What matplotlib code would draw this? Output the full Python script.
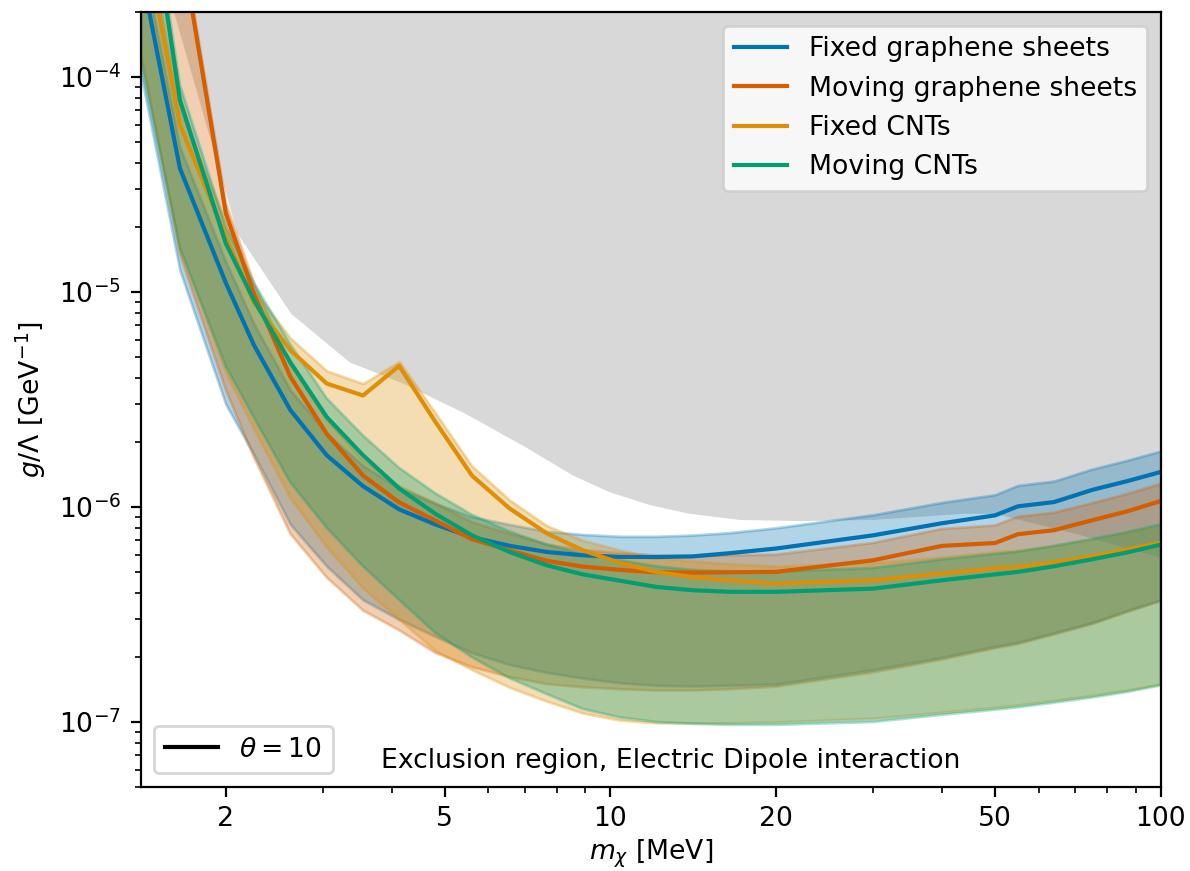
import numpy as np
import matplotlib.pyplot as plt
from matplotlib.lines import Line2D

plt.rcParams['font.size'] = 9.6

# dark matter mass grid [MeV]
mass = [1.4, 1.65, 2.0, 2.25, 2.62, 3.05, 3.55, 4.13, 4.8, 5.6, 6.55, 7.65, 8.9,
        10.4, 12.1, 14.1, 16.5, 20, 30, 40, 50, 55, 64, 75, 87, 100]

# projected reach on g/Lambda [GeV^-1], central curve plus band edges
fixed_sheets = [3.2e-4, 3.76e-5, 1.1e-5, 5.65e-6, 2.82e-6, 1.74e-6, 1.25e-6, 9.75e-7, 8.3e-7,
                7.23e-7, 6.6e-7, 6.18e-7, 5.96e-7, 5.86e-7, 5.85e-7, 5.89e-7, 6.1e-7, 6.41e-7,
                7.38e-7, 8.4e-7, 9.14e-7, 1.007e-6, 1.054e-6, 1.2e-6, 1.32e-6, 1.455e-6]
fixed_sheets_lo = [1.05e-4, 1.26e-5, 3.0e-6, 1.75e-6, 8.3e-7, 5.3e-7, 3.7e-7, 3.0e-7, 2.5e-7,
                   2.1e-7, 1.85e-7, 1.7e-7, 1.6e-7, 1.52e-7, 1.48e-7, 1.47e-7, 1.48e-7, 1.5e-7,
                   1.75e-7, 2.0e-7, 2.25e-7, 2.35e-7, 2.6e-7, 2.9e-7, 3.3e-7, 3.7e-7]
fixed_sheets_hi = [4.0e-4, 4.7e-5, 1.38e-5, 7.1e-6, 3.5e-6, 2.2e-6, 1.56e-6, 1.22e-6, 1.04e-6,
                   9.0e-7, 8.3e-7, 7.7e-7, 7.45e-7, 7.3e-7, 7.3e-7, 7.4e-7, 7.6e-7, 8.0e-7,
                   9.2e-7, 1.05e-6, 1.14e-6, 1.26e-6, 1.32e-6, 1.5e-6, 1.65e-6, 1.82e-6]

moving_sheets = [5.9e-3, 4.5e-4, 2.32e-5, 9.8e-6, 4.03e-6, 2.19e-6, 1.40e-6, 1.05e-6, 8.67e-7,
                 7.08e-7, 6.29e-7, 5.62e-7, 5.28e-7, 5.1e-7, 4.97e-7, 4.95e-7, 4.97e-7, 4.99e-7,
                 5.65e-7, 6.59e-7, 6.8e-7, 7.47e-7, 7.8e-7, 8.67e-7, 9.55e-7, 1.066e-6]
moving_sheets_lo = [1.3e-4, 1.5e-5, 3.5e-6, 1.7e-6, 7.5e-7, 4.7e-7, 3.3e-7, 2.67e-7, 2.1e-7,
                    1.8e-7, 1.62e-7, 1.5e-7, 1.45e-7, 1.42e-7, 1.4e-7, 1.4e-7, 1.42e-7, 1.46e-7,
                    1.7e-7, 1.95e-7, 2.2e-7, 2.3e-7, 2.55e-7, 2.85e-7, 3.25e-7, 3.65e-7]
moving_sheets_hi = [6.5e-3, 5.0e-4, 2.6e-5, 1.1e-5, 4.6e-6, 2.55e-6, 1.65e-6, 1.25e-6, 1.04e-6,
                    8.5e-7, 7.5e-7, 6.7e-7, 6.3e-7, 6.1e-7, 5.95e-7, 5.9e-7, 5.95e-7, 6.0e-7,
                    6.8e-7, 7.9e-7, 8.2e-7, 9.0e-7, 9.4e-7, 1.04e-6, 1.15e-6, 1.28e-6]

fixed_cnt = [5.65e-4, 6.0e-5, 1.8e-5, 8.9e-6, 5.36e-6, 3.75e-6, 3.30e-6, 4.53e-6, 2.5e-6,
             1.40e-6, 9.86e-7, 7.55e-7, 6.29e-7, 5.49e-7, 4.99e-7, 4.72e-7, 4.56e-7, 4.4e-7,
             4.56e-7, 4.9e-7, 5.19e-7, 5.26e-7, 5.53e-7, 5.9e-7, 6.35e-7, 6.83e-7]
fixed_cnt_lo = [1.3e-4, 1.6e-5, 4.2e-6, 2.3e-6, 1.1e-6, 6.5e-7, 4.2e-7, 3.0e-7, 2.15e-7,
                1.75e-7, 1.45e-7, 1.25e-7, 1.1e-7, 1.02e-7, 9.9e-8, 9.9e-8, 9.9e-8, 1.0e-7,
                1.04e-7, 1.11e-7, 1.17e-7, 1.2e-7, 1.26e-7, 1.33e-7, 1.41e-7, 1.5e-7]
fixed_cnt_hi = [6.5e-4, 7.0e-5, 2.1e-5, 1.02e-5, 6.1e-6, 4.3e-6, 3.75e-6, 4.75e-6, 2.75e-6,
                1.55e-6, 1.08e-6, 8.2e-7, 7.0e-7, 6.3e-7, 5.8e-7, 5.6e-7, 5.45e-7, 5.3e-7,
                5.5e-7, 5.85e-7, 6.2e-7, 6.3e-7, 6.6e-7, 7.05e-7, 7.6e-7, 8.2e-7]

moving_cnt = [1.3e-3, 7.8e-5, 1.68e-5, 9.15e-6, 4.7e-6, 2.62e-6, 1.74e-6, 1.22e-6, 9.31e-7,
              7.38e-7, 6.18e-7, 5.36e-7, 4.86e-7, 4.54e-7, 4.25e-7, 4.1e-7, 4.03e-7, 4.03e-7,
              4.17e-7, 4.56e-7, 4.86e-7, 4.99e-7, 5.3e-7, 5.71e-7, 6.15e-7, 6.68e-7]
moving_cnt_lo = [1.2e-4, 1.6e-5, 4.5e-6, 2.6e-6, 1.3e-6, 8.0e-7, 5.3e-7, 3.7e-7, 2.6e-7,
                 2.0e-7, 1.6e-7, 1.35e-7, 1.15e-7, 1.05e-7, 1.0e-7, 9.8e-8, 9.7e-8, 9.7e-8,
                 1.0e-7, 1.08e-7, 1.14e-7, 1.17e-7, 1.23e-7, 1.3e-7, 1.38e-7, 1.48e-7]
moving_cnt_hi = [1.5e-3, 9.2e-5, 2.0e-5, 1.1e-5, 5.7e-6, 3.2e-6, 2.15e-6, 1.52e-6, 1.16e-6,
                 9.2e-7, 7.7e-7, 6.7e-7, 6.05e-7, 5.65e-7, 5.3e-7, 5.1e-7, 5.0e-7, 5.0e-7,
                 5.2e-7, 5.7e-7, 6.05e-7, 6.2e-7, 6.6e-7, 7.1e-7, 7.65e-7, 8.3e-7]

# existing exclusion (lower edge of the shaded region)
excl_mass = [1.55, 1.61, 2.1, 2.63, 3.36, 4.2, 5.47, 7.0, 8.55, 9.97, 11.8, 13.9, 17.2,
             22, 30, 44, 50, 70, 100]
excl_g = [5e-4, 2e-4, 1.87e-5, 7.9e-6, 4.7e-6, 3.75e-6, 2.7e-6, 1.9e-6, 1.4e-6, 1.17e-6,
          1.02e-6, 9.3e-7, 8.7e-7, 8.6e-7, 8.7e-7, 9.3e-7, 9.3e-7, 7.5e-7, 5.8e-7]

labels = ['Fixed graphene sheets', 'Moving graphene sheets', 'Fixed CNTs', 'Moving CNTs']
colors = ['#0173B2', '#D55E00', '#DE8F05', '#029E73']
curves = [fixed_sheets, moving_sheets, fixed_cnt, moving_cnt]
lows = [fixed_sheets_lo, moving_sheets_lo, fixed_cnt_lo, moving_cnt_lo]
highs = [fixed_sheets_hi, moving_sheets_hi, fixed_cnt_hi, moving_cnt_hi]

fig, ax = plt.subplots(figsize=(5.95, 4.355), dpi=200)
fig.subplots_adjust(left=0.1182, right=0.9754, top=0.9859, bottom=0.0968)

ax.fill_between(excl_mass, excl_g, 1e-2, color='gray', alpha=0.3, lw=0)

for lo, hi, c in zip(lows, highs, colors):
    ax.fill_between(mass, lo, hi, color=c, alpha=0.3)

for y, c, lab in zip(curves, colors, labels):
    ax.plot(mass, y, color=c, lw=1.5, label=lab)

ax.set_xscale('log')
ax.set_yscale('log')
ax.set_xlim(1.4, 100)
ax.set_ylim(5e-8, 2e-4)

ax.set_xticks([2, 5, 10, 20, 50, 100])
ax.set_xticklabels(['2', '5', '10', '20', '50', '100'])

ax.set_xlabel(r'$m_\chi$ [MeV]', labelpad=2)
ax.set_ylabel(r'$g/\Lambda$ [GeV$^{-1}$]')

leg = ax.legend(loc='upper right')
theta_leg = ax.legend(handles=[Line2D([0], [0], color='k', lw=1.5)],
                      labels=[r'$\theta = 10$'], loc='lower left')
ax.add_artist(leg)

ax.text(0.52, 0.017, 'Exclusion region, Electric Dipole interaction',
        transform=ax.transAxes, ha='center', va='bottom')

plt.savefig('out.png', dpi=200)
